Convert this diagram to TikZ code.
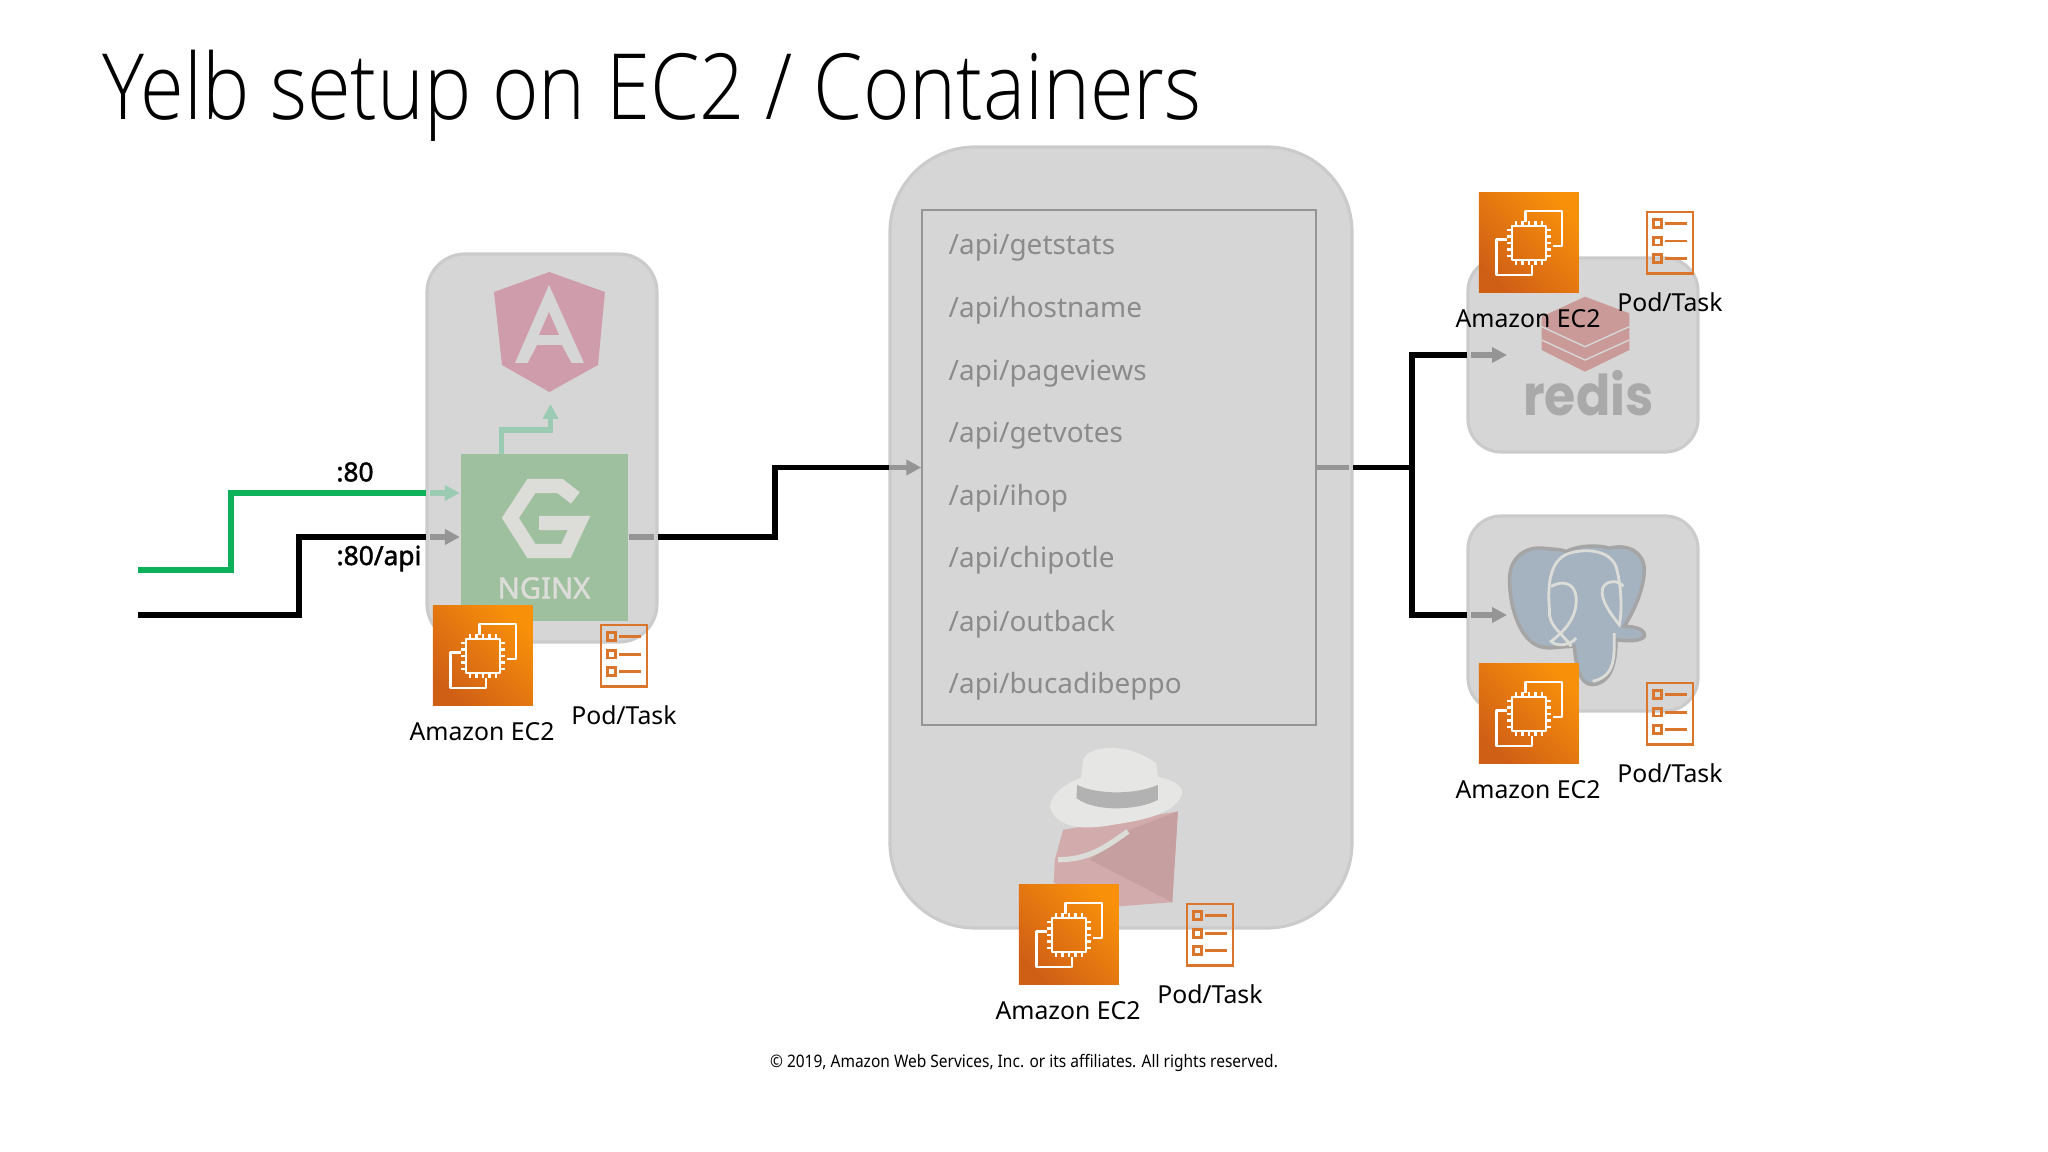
\documentclass[tikz,border=0pt]{standalone}
\usepackage{fontspec}
\setmainfont{Noto Sans}
\newfontfamily\titlefont[FakeStretch=0.87]{Open Sans Light}
\newfontfamily\redisfont[FakeStretch=0.9]{Poppins}
\newfontfamily\portfont[FakeBold=1.6]{Noto Sans}
\newfontfamily\smallfont[FakeStretch=0.9]{Noto Sans}
\usetikzlibrary{arrows.meta, calc}
\definecolor{panelfill}{HTML}{D6D6D6}
\definecolor{panelline}{HTML}{CBCBCB}
\definecolor{wiregreen}{HTML}{0DB15A}
\definecolor{fadegreen}{HTML}{9CCBB4}
\definecolor{fadegray}{HTML}{959595}
\definecolor{nginxfill}{HTML}{9FC09F}
\definecolor{logolight}{HTML}{DCDCD8}
\definecolor{apitext}{HTML}{8B8B8B}
\definecolor{podline}{HTML}{D9762B}
\definecolor{ecdark}{HTML}{D05F16}
\definecolor{eclight}{HTML}{F8900A}
\definecolor{angularfill}{HTML}{CE9CAB}
\definecolor{redisfill}{HTML}{C99A98}
\definecolor{redistext}{HTML}{A9A9A9}
\definecolor{pgfill}{HTML}{A5B3C0}
\definecolor{rubyfill}{HTML}{D2ABAC}
\definecolor{rubydark}{HTML}{C6A0A0}
\definecolor{hatfill}{HTML}{E6E6E4}
\definecolor{hatband}{HTML}{B2B2B2}
\tikzset{
  panel/.style={draw=panelline, line width=.9pt, fill=panelfill, inner sep=0pt},
  wire/.style={line width=1.5pt, black},
  greenwire/.style={line width=1.6pt, wiregreen},
  fadewire/.style={line width=1.5pt, fadegray, -{Triangle[length=.15cm,width=.15cm]}},
  fadestub/.style={line width=1.5pt, fadegray},
  tealwire/.style={line width=1.5pt, fadegreen, -{Triangle[length=.15cm,width=.15cm]}},
  ectile/.style={minimum size=1cm, inner sep=0pt, shade, shading=axis, left color=ecdark, right color=eclight, shading angle=135},
  chip/.style={white, line width=.7pt, line join=round},
  podicon/.style={podline, line width=.7pt},
  iconlabel/.style={font=\fontsize{7.05}{9}\selectfont, inner sep=0pt},
  apilabel/.style={font=\fontsize{7.95}{10}\selectfont, text=apitext, anchor=west, inner sep=0pt},
  portlabel/.style={font=\fontsize{7.5}{9}\portfont, inner sep=0pt},
  zoomed/.style={x=0.00333cm, y=-0.00333cm}
}
% EC2 tile with its pod list next to it, #1 #2 top left of the tile, #3 name
\newcommand{\EcPod}[3]{
\begin{scope}[shift={(#1,-#2)}, x=.01cm, y=-.01cm]
\node[ectile] (#3ec) at (50,50) {};
\draw[chip] (46.7,29)--(46.7,18)--(83,18)--(83,53)--(73.7,53);
\draw[chip] (28,46.7)--(17.3,46.7)--(17.3,82.3)--(53,82.3)--(53,72.3);
\draw[chip] (33,33) rectangle (67,67);
\foreach \p in {37,43.5,50,56.5,63} {
  \draw[chip] (\p,28)--(\p,33);
  \draw[chip] (\p,67)--(\p,72);
  \draw[chip] (28,\p)--(33,\p);
  \draw[chip] (67,\p)--(72,\p);
}
\node[iconlabel] (#3eclabel) at (49,126) {Amazon EC2};
\begin{scope}[shift={(168,19)}]
\draw[podicon] (0,0) rectangle (46,61.5);
\foreach \q in {11.7,29.3,46.7} {
  \draw[podicon] (6.7,\q-4) rectangle (14.7,\q+4);
  \draw[podicon] (18.3,\q)--(40.3,\q);
}
\node[iconlabel] (#3podlabel) at (23,90) {Pod/Task};
\end{scope}
\end{scope}
}

\begin{document}
\begin{tikzpicture}
\useasboundingbox (0,0) rectangle (20.48,-11.52);
\node[anchor=base west, inner sep=0pt, font=\fontsize{26}{30}\titlefont] (title) at (1.02,-1.20) {Yelb setup on EC2 / Containers};

% panels
\node[panel, rounded corners=.38cm, minimum width=2.30cm, minimum height=3.88cm] (frontbox) at (5.42,-4.48) {};
\node[panel, rounded corners=.85cm, minimum width=4.62cm, minimum height=7.81cm] (apibox) at (11.21,-5.375) {};
\node[panel, rounded corners=.33cm, minimum width=2.30cm, minimum height=1.94cm] (redisbox) at (15.83,-3.55) {};
\node[panel, rounded corners=.33cm, minimum width=2.30cm, minimum height=1.95cm] (pgbox) at (15.83,-6.135) {};
\node[draw=fadegray, line width=.4pt, fill=panelfill, minimum width=3.94cm, minimum height=5.15cm, inner sep=0pt] (apilist) at (11.19,-4.675) {};
\node[fill=nginxfill, minimum width=1.674cm, minimum height=1.67cm, inner sep=0pt] (nginx) at (5.443,-5.375) {};

% angular
\fill[angularfill] (5.494,-2.72)--(6.05,-2.92)--(5.98,-3.65)--(5.494,-3.92)--(5.02,-3.65)--(4.94,-2.92)--cycle;
\fill[panelfill] (5.49,-2.85)--(5.84,-3.63)--(5.716,-3.63)--(5.62,-3.45)--(5.37,-3.45)--(5.276,-3.63)--(5.15,-3.63)--cycle;
\fill[angularfill] (5.49,-3.12)--(5.59,-3.35)--(5.39,-3.35)--cycle;

% nginx logo
\draw[logolight, line width=4.1pt, miter limit=4] (5.754,-4.98)--(5.60,-4.86)--(5.314,-4.86)--(5.104,-5.18)--(5.314,-5.51)--(5.66,-5.51)--(5.79,-5.23)--(5.39,-5.23);
\node[text=logolight, font=\fontsize{8.3}{9}\portfont, inner sep=0pt] (nginxname) at (5.44,-5.88) {NGINX};

% redis logo
\fill[redisfill] (15.85,-2.967)--(16.293,-3.133)--(16.293,-3.50)--(15.85,-3.717)--(15.417,-3.50)--(15.417,-3.167)--cycle;
\draw[panelfill, line width=.4pt] (15.417,-3.267)--(15.85,-3.467)--(16.293,-3.267);
\draw[panelfill, line width=.4pt] (15.417,-3.40)--(15.85,-3.60)--(16.293,-3.40);
\node[text=redistext, font=\fontsize{16}{20}\redisfont\bfseries, inner sep=0pt] (redisname) at (15.885,-3.93) {redis};

% postgres logo
\begin{scope}[shift={(13,-5)}, zoomed]
\draw[fill=pgfill, draw=fadegray!85!white, line width=1pt]
  (825,440) .. controls (780,440) and (750,450) .. (720,440)
  .. controls (660,420) and (630,320) .. (630,240)
  .. controls (630,170) and (680,140) .. (730,145)
  .. controls (770,148) and (790,150) .. (800,155)
  .. controls (840,135) and (900,135) .. (930,145)
  .. controls (990,130) and (1035,160) .. (1035,210)
  .. controls (1035,270) and (1000,340) .. (975,380)
  .. controls (1010,380) and (1040,390) .. (1035,410)
  .. controls (1025,425) and (985,425) .. (950,420)
  .. controls (950,480) and (940,550) .. (880,555)
  .. controls (840,555) and (830,500) .. (825,440) -- cycle;
\draw[logolight, line width=.8pt] (815,440) .. controls (790,400) and (745,380) .. (750,330) .. controls (745,270) and (745,180) .. (810,160) .. controls (860,145) and (930,150) .. (950,200) .. controls (965,250) and (970,330) .. (960,375) .. controls (940,350) and (900,300) .. (910,265) .. controls (920,240) and (960,240) .. (972,260);
\draw[logolight, line width=.8pt] (755,260) .. controls (790,240) and (825,250) .. (830,290) .. controls (835,350) and (800,390) .. (755,425) .. controls (770,440) and (810,440) .. (830,415);
\draw[logolight, line width=.8pt] (945,400) .. controls (945,470) and (950,530) .. (880,545);
\end{scope}

% rails logo
\begin{scope}[shift={(9.8,-7.2)}, zoomed]
\fill[rubyfill] (595,275)--(578,548)--(420,560)--(222,490)--(225,420)--(250,330)--cycle;
\fill[rubydark] (450,330)--(595,275)--(578,548)--(330,420)--cycle;
\draw[logolight, line width=1.5pt] (235,420) .. controls (330,420) and (380,380) .. (445,335);
\fill[hatfill] (310,120) .. controls (330,70) and (450,70) .. (530,130) -- (540,210) -- (300,210) -- cycle;
\fill[hatfill] (210,260) .. controls (215,220) and (260,190) .. (300,175) -- (530,170) .. controls (560,175) and (610,190) .. (608,220) .. controls (590,280) and (500,300) .. (400,315) .. controls (320,330) and (230,330) .. (210,260) -- cycle;
\fill[hatband] (292,195) .. controls (350,225) and (470,225) .. (535,195) -- (535,240) .. controls (480,270) and (350,280) .. (290,235) -- cycle;
\end{scope}

% connector ends
\coordinate (in80) at (1.38,-5.70);
\coordinate (inapi) at (1.38,-6.15);
\coordinate (front80) at (4.26,-4.93);
\coordinate (frontapi) at (4.26,-5.37);
\coordinate (frontout) at (6.58,-5.37);
\coordinate (apiin) at (8.89,-4.675);
\coordinate (apiout) at (13.53,-4.675);
\coordinate (split) at (14.12,-4.675);
\coordinate (redisin) at (14.67,-3.55);
\coordinate (pgin) at (14.67,-6.15);
\coordinate (nginxtop) at (5.016,-4.54);
\coordinate (angularin) at (5.505,-4.04);

\draw[greenwire] (in80) -- ++(.93,0) |- (front80);
\draw[wire] (inapi) -- ++(1.61,0) |- (frontapi);
\draw[tealwire] ($(front80)+(.04,0)$) -- (nginx.west |- front80);
\draw[tealwire] (nginxtop) -- ++(0,.24) -| (angularin);
\draw[fadewire] ($(frontapi)+(.04,0)$) -- (nginx.west |- frontapi);
\draw[fadestub] (nginx.east |- frontout) -- ($(frontout)-(.04,0)$);
\draw[wire] (frontout) -- ++(1.17,0) |- (apiin);
\draw[fadewire] (apiin) -- (apilist.west |- apiin);
\draw[fadestub] (apilist.east |- apiout) -- ($(apiout)-(.04,0)$);
\draw[wire] (apiout) -- (split);
\draw[wire] (redisin) -| (split) |- (pgin);
\draw[fadewire] ($(redisin)+(.04,0)$) -- ++(.36,0);
\draw[fadewire] ($(pgin)+(.04,0)$) -- ++(.36,0);

\node[portlabel] (label80) at (3.55,-4.72) {:80};
\node[portlabel] (labelapi) at (3.79,-5.585) {:80/api};

% api paths
\foreach \name/\ypos in {getstats/2.48, hostname/3.10, pageviews/3.74, getvotes/4.36, ihop/4.98, chipotle/5.60, outback/6.24, bucadibeppo/6.86} {
  \node[apilabel] (api\name) at (9.48,-\ypos) {/api/\name};
}

\EcPod{4.33}{6.06}{front}
\EcPod{10.19}{8.85}{api}
\EcPod{14.79}{1.93}{redis}
\EcPod{14.79}{6.64}{pg}

\node[inner sep=0pt, font=\fontsize{4.9}{7}\smallfont] (copyright) at (10.24,-10.63) {© 2019, Amazon Web Services, Inc. or its affiliates. All rights reserved.};
\end{tikzpicture}
\end{document}
